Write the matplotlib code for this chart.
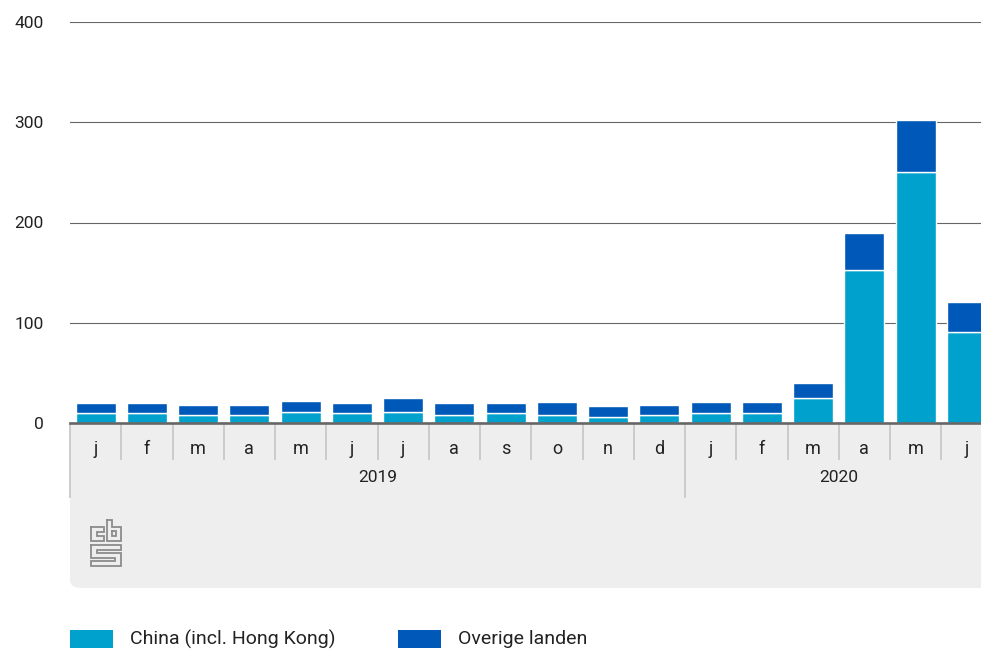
import matplotlib
matplotlib.use("Agg")
import matplotlib.pyplot as plt
from matplotlib.patches import Rectangle, FancyBboxPatch
from matplotlib.lines import Line2D
from matplotlib.transforms import blended_transform_factory

plt.rcParams["font.family"] = ["Roboto", "DejaVu Sans"]

months = ["j", "f", "m", "a", "m", "j", "j", "a", "s", "o", "n", "d",
          "j", "f", "m", "a", "m", "j"]
years = ["2019", "2020"]
china = [10, 10, 8, 8, 11, 10, 11, 8, 10, 8, 6, 8, 10, 10, 25, 153, 250, 91]
overig = [10, 10, 10, 10, 11, 10, 14, 12, 10, 13, 11, 10, 11, 11, 15, 37, 52, 30]
yticks = [0, 100, 200, 300, 400]

c_china = "#00a1cd"
c_overig = "#0058b8"
panel = "#eeeeee"
sep = "#c8c8c8"
txt = "#222222"

W, H = 981, 651
fig = plt.figure(figsize=(W / 100, H / 100), dpi=100)


def fx(px):
    return px / W


def fy(px):
    return 1 - px / H


# plot area: x 70..992 px (runs past the right edge), y 22..423 px
ax = fig.add_axes([fx(70), fy(423), fx(922.5), fy(22) - fy(423)])
ax.set_xlim(-0.5, len(months) - 0.5)
ax.set_ylim(0, 400)

x = range(len(months))
ax.bar(x, china, width=0.78, color=c_china, edgecolor="white", linewidth=1, zorder=3)
ax.bar(x, overig, bottom=china, width=0.78, color=c_overig, edgecolor="white",
       linewidth=1, zorder=3)

ax.set_yticks(yticks)
ax.set_yticklabels([str(v) for v in yticks])
ax.tick_params(axis="y", length=0, pad=19, labelsize=12.5, labelcolor=txt)
ax.tick_params(axis="x", length=0, labelbottom=False)
ax.yaxis.grid(True, color="#666666", linewidth=0.8, zorder=0)
ax.set_axisbelow(True)
for s in ["top", "right", "left"]:
    ax.spines[s].set_visible(False)
ax.spines["bottom"].set_color("#666666")
ax.spines["bottom"].set_linewidth(1.9)
ax.spines["bottom"].set_zorder(5)

# grey category panel under the axis
fig.patches.append(FancyBboxPatch((fx(70), fy(588)), fx(960), fy(424) - fy(588),
                                  boxstyle="round,pad=0,rounding_size=0.012",
                                  transform=fig.transFigure, facecolor=panel,
                                  edgecolor="none", zorder=-2))
fig.patches.append(Rectangle((fx(70), fy(520)), fx(960), fy(424) - fy(520),
                             transform=fig.transFigure, facecolor=panel,
                             edgecolor="none", zorder=-2))

tr = blended_transform_factory(ax.transData, fig.transFigure)
for i, m in enumerate(months):
    ax.text(i, fy(449), m, transform=tr, ha="center", va="center",
            fontsize=13, color=txt, clip_on=False)
for i in range(len(months) - 1):
    top_end = 497 if i == 11 else 459
    ax.add_line(Line2D([i + 0.5, i + 0.5], [fy(425), fy(top_end)], transform=tr,
                       color=sep, linewidth=1.3, clip_on=False))
ax.add_line(Line2D([-0.5, -0.5], [fy(425), fy(497)], transform=tr,
                   color=sep, linewidth=1.3, clip_on=False))
ax.text(5.5, fy(478), years[0], transform=tr, ha="center", va="center",
        fontsize=12.5, color=txt, clip_on=False)
ax.text(14.5, fy(478), years[1], transform=tr, ha="center", va="center",
        fontsize=12.5, color=txt, clip_on=False)

# cbs logo outline
logo = [
    [(91, 527), (104, 527), (104, 532), (97, 532), (97, 536), (104, 536),
     (104, 541), (91, 541), (91, 527)],
    [(107, 520), (112, 520), (112, 527), (121, 527), (121, 541), (107, 541),
     (107, 520)],
    [(112, 531), (116, 531), (116, 536), (112, 536), (112, 531)],
    [(91, 545), (121, 545), (121, 550), (97, 550), (97, 553), (121, 553),
     (121, 566), (91, 566), (91, 561), (115, 561), (115, 558), (91, 558),
     (91, 545)],
]
for path in logo:
    fig.add_artist(Line2D([fx(p[0]) for p in path], [fy(p[1]) for p in path],
                          transform=fig.transFigure, color="#8c8c8c",
                          linewidth=1.3, solid_joinstyle="miter"))

# legend
fig.patches.append(Rectangle((fx(70), fy(648)), fx(43), fy(630) - fy(648),
                             transform=fig.transFigure, facecolor=c_china,
                             edgecolor="none"))
fig.text(fx(130), fy(639), "China (incl. Hong Kong)", ha="left", va="center",
         fontsize=14, color=txt)
fig.patches.append(Rectangle((fx(398), fy(648)), fx(43), fy(630) - fy(648),
                             transform=fig.transFigure, facecolor=c_overig,
                             edgecolor="none"))
fig.text(fx(458), fy(639), "Overige landen", ha="left", va="center",
         fontsize=14, color=txt)

fig.savefig("out.png", dpi=100, facecolor="white")
